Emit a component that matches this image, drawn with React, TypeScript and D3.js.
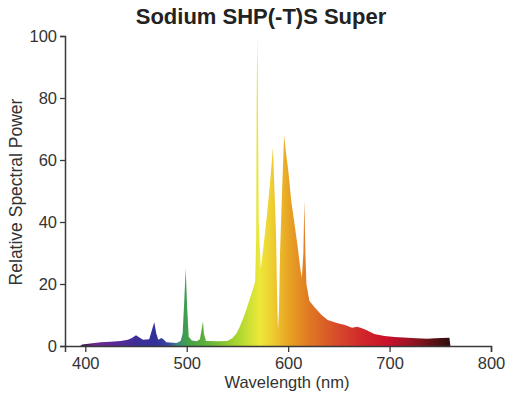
import { useEffect, useRef } from 'react';
import * as d3 from 'd3';

// spectrum (nm, relative power)
const wavelengths = [
  395, 397, 405, 415, 425, 435, 442, 446, 450, 453, 457, 463, 466, 468, 470, 472, 475, 477, 480, 490,
  494, 496, 497.5, 499, 500.5, 502, 505, 510, 513, 515, 516, 517, 519, 530, 540, 545, 549, 552, 555, 558,
  561, 564, 566, 567.5, 568.5, 569, 569.5, 570, 571, 573, 576, 579, 582, 584, 585, 586, 588, 589, 590, 591,
  592, 594, 596, 598, 600, 603, 606, 609, 612, 613.5, 615, 616, 617, 618, 621, 626, 633, 639, 648, 656,
  663, 668, 672, 677, 685, 695, 705, 722, 737, 745, 751, 759, 760,
];
const power = [
  0, 0.5, 0.8, 1.2, 1.4, 1.6, 2.0, 2.6, 3.5, 2.8, 2.0, 2.2, 5.5, 7.7, 4.0, 2.0, 2.6, 2.2, 1.2, 1.0,
  1.6, 4, 14, 25, 12, 3, 1.8, 1.5, 2.2, 6, 8, 4, 1.6, 1.5, 1.6, 2.5, 4, 6, 8.4, 11,
  14, 17, 19, 21, 35, 80, 100, 90, 40, 25, 33, 42, 52, 60, 64, 55, 37, 18, 5, 12,
  30, 50, 68, 62, 57, 47, 40, 33, 25, 22, 30, 47, 30, 20, 14.5, 12.5, 10, 8.4, 7.4, 6.8,
  5.9, 6.2, 5.8, 5.2, 3.9, 3.2, 2.9, 2.6, 2.3, 2.5, 2.6, 2.7, 0,
];

const xTicks = [400, 500, 600, 700, 800];
const yTicks = [0, 20, 40, 60, 80, 100];

const stopWavelengths = [395, 410, 430, 450, 470, 482, 492, 500, 520, 540, 555, 572, 585, 600, 620, 645, 675, 700, 725, 745, 760];
const stopColors = [
  '#2c1638', '#6e2a8e', '#5a2a94', '#3e2e98', '#33319a', '#3a4aa0', '#3a8a80', '#42a04a', '#62b23a', '#90c830',
  '#b8da30', '#eee83a', '#eecc30', '#e8a524', '#e07a22', '#d8502a', '#d0242a', '#c8102c', '#8e1422', '#561214', '#2e1010',
];

const SpectrumChart = () => {
  const svgRef = useRef(null);

  useEffect(() => {
    document.body.style.margin = '0';
    const width = 508;
    const height = 397;
    const margin = { top: 36, right: 17, bottom: 51, left: 65 };

    const svg = d3.select(svgRef.current)
      .attr('width', width)
      .attr('height', height);
    svg.selectAll('*').remove();

    const x = d3.scaleLinear()
      .domain([380, 800])
      .range([margin.left, width - margin.right]);

    const y = d3.scaleLinear()
      .domain([0, 100])
      .range([height - margin.bottom, margin.top]);

    // colour of the light along the x axis
    const grad = svg.append('defs').append('linearGradient')
      .attr('id', 'spectrum')
      .attr('gradientUnits', 'userSpaceOnUse')
      .attr('x1', x(stopWavelengths[0]))
      .attr('x2', x(stopWavelengths[stopWavelengths.length - 1]))
      .attr('y1', 0)
      .attr('y2', 0);
    const lo = stopWavelengths[0];
    const span = stopWavelengths[stopWavelengths.length - 1] - lo;
    grad.selectAll('stop')
      .data(stopWavelengths)
      .enter().append('stop')
      .attr('offset', d => (d - lo) / span)
      .attr('stop-color', (d, i) => stopColors[i]);

    const points = wavelengths.map((w, i) => [w, power[i]]);
    const area = d3.area()
      .x(d => x(d[0]))
      .y0(y(0))
      .y1(d => y(d[1]));

    svg.append('path')
      .datum(points)
      .attr('d', area)
      .attr('fill', 'url(#spectrum)');

    const font = 'Arial, "Liberation Sans", Helvetica, sans-serif';

    const xAxis = svg.append('g')
      .attr('transform', `translate(0,${y(0)})`)
      .call(d3.axisBottom(x).tickValues(xTicks).tickSize(6).tickSizeOuter(6).tickPadding(5));

    const yAxis = svg.append('g')
      .attr('transform', `translate(${margin.left},0)`)
      .call(d3.axisLeft(y).tickValues(yTicks).tickSize(5).tickSizeOuter(5).tickPadding(3));

    [xAxis, yAxis].forEach(g => {
      g.select('.domain').attr('stroke', '#3a3a3a').attr('stroke-width', 1.5);
      g.selectAll('line').attr('stroke', '#3a3a3a').attr('stroke-width', 1.3);
      g.selectAll('text')
        .style('font-family', font)
        .style('font-size', '16.5px')
        .attr('fill', '#333');
    });

    svg.append('text')
      .attr('x', 261)
      .attr('y', 24)
      .attr('text-anchor', 'middle')
      .style('font-family', font)
      .style('font-size', '22px')
      .style('font-weight', 'bold')
      .attr('fill', '#222')
      .text('Sodium SHP(-T)S Super');

    svg.append('text')
      .attr('x', 287)
      .attr('y', 388)
      .attr('text-anchor', 'middle')
      .style('font-family', font)
      .style('font-size', '16.5px')
      .attr('fill', '#333')
      .text('Wavelength (nm)');

    svg.append('text')
      .attr('transform', 'translate(22,192) rotate(-90)')
      .attr('text-anchor', 'middle')
      .style('font-family', font)
      .style('font-size', '17.5px')
      .attr('fill', '#333')
      .text('Relative Spectral Power');
  }, []);

  return <svg ref={svgRef} style={{ display: 'block' }}></svg>;
};

export default function App() {
  return <SpectrumChart />;
}
